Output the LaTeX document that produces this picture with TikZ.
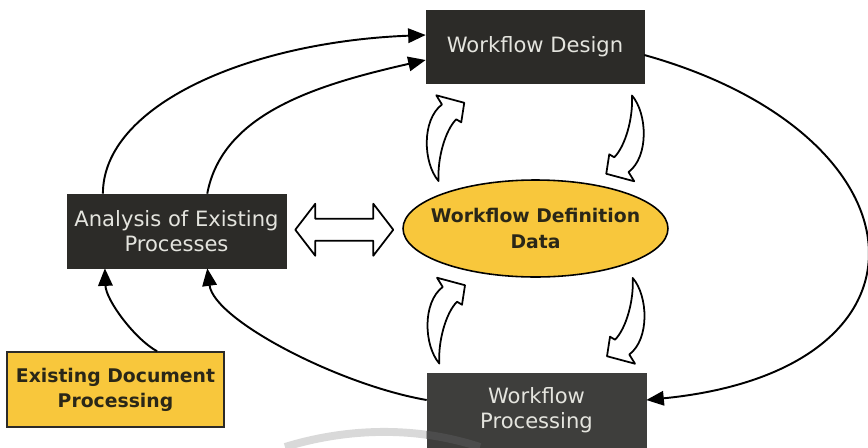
\documentclass[tikz,border=0pt]{standalone}
\usepackage{fontspec}
\setmainfont{DejaVu Sans}
\usetikzlibrary{arrows.meta,calc,shapes.geometric}
\definecolor{boxdark}{HTML}{2C2B28}
\definecolor{boxgray}{HTML}{3E3E3C}
\definecolor{wfyellow}{HTML}{F8C73C}
\definecolor{boxtext}{HTML}{E4E4DE}
\definecolor{inktext}{HTML}{2A2718}
\tikzset{
  darkbox/.style={draw=boxdark, fill=boxdark, text=boxtext, minimum width=4.38cm, minimum height=1.48cm, align=center, inner sep=0pt, font=\fontsize{12}{14.2}\selectfont},
  yellowbox/.style={draw=boxdark, line width=0.9pt, fill=wfyellow, text=inktext, minimum width=4.34cm, minimum height=1.5cm, align=center, inner sep=0pt, font=\fontsize{10.7}{14.2}\selectfont\bfseries},
  flow/.style={line width=1.1pt, -{Triangle[length=3.5mm,width=2.9mm]}},
  hollow/.style={draw=black, fill=white, line width=1pt, line join=round},
}
\newcommand{\bentarrow}{\draw[hollow] (-93.3,-33.8) -- (-99,-43) -- (-71,-35.5) -- (-74,-16) -- (-79,-19) .. controls (-90,-8) and (-98,20) .. (-96.7,42.8) .. controls (-112,25) and (-114,-18) .. cycle;}

\begin{document}
\begin{tikzpicture}[x=0.02cm,y=-0.02cm]
\useasboundingbox (0,0) rectangle (868,447);

\draw[gray!30, line width=4.5pt] (285,447) .. controls (340,430) and (410,424) .. (480,447);

\node[darkbox, minimum width=4.36cm, minimum height=1.46cm] (design) at (535,46.5) {Workflow Design};
\node[darkbox] (ana) at (176.5,231) {Analysis of Existing\\Processes};
\node[darkbox, fill=boxgray, draw=boxgray] (wp) at (536.5,410) {Workflow\\Processing};
\node[yellowbox] (exdoc) at (115.5,389.5) {Existing Document\\Processing};
\node[draw=black, line width=0.9pt, fill=wfyellow, ellipse, minimum width=5.3cm, minimum height=1.94cm, inner sep=0pt] (data) at (535.5,228.5) {};
\node[text=inktext, align=center, font=\fontsize{10.7}{14.7}\selectfont\bfseries] (datatext) at (data) {Workflow Definition\\Data};

\begin{scope}
\clip (wp.north west) rectangle (wp.south east);
\draw[black!70, line width=4.5pt] (285,447) .. controls (340,430) and (410,424) .. (480,447);
\end{scope}

\draw[flow] ($(ana.north west)!0.165!(ana.north east)$) .. controls +(0,-88) and +(-178,7) .. ([yshift=0.23cm]design.west);
\draw[flow] ($(ana.north west)!0.64!(ana.north east)$) .. controls +(15,-80) and +(-110,25) .. ([yshift=-0.27cm]design.west);
\draw[flow] ([yshift=-0.17cm]design.east) .. controls +(286,80) and +(304,-30) .. ([yshift=0.2cm]wp.east);
\draw[flow] ([yshift=0.2cm]wp.west) .. controls +(-87,-15) and +(7,52) .. ($(ana.south west)!0.64!(ana.south east)$);
\draw[flow] ($(exdoc.north west)!0.69!(exdoc.north east)$) .. controls +(-22,-12) and +(1,32) .. ($(ana.south west)!0.174!(ana.south east)$);

\coordinate (gapmid) at ($(ana.east)!0.5!(data.west)$);
\begin{scope}[shift={(gapmid)}]
\draw[hollow] (-49,0) -- (-29,-26) -- (-29,-11) -- (29,-11) -- (29,-26) -- (49,0) -- (29,26) -- (29,11) -- (-29,11) -- (-29,26) -- cycle;
\end{scope}

\coordinate (upmid) at ($(design.south)!0.5!(data.north)$);
\coordinate (lowmid) at ($(data.south)!0.5!(wp.north)$);
\begin{scope}[shift={($(upmid)+(0,7)$)}]
\bentarrow
\end{scope}
\begin{scope}[shift={($(upmid)+(0,7)$)}, xscale=-1, yscale=-1]
\bentarrow
\end{scope}
\begin{scope}[shift={($(lowmid)+(0,-4.5)$)}]
\bentarrow
\end{scope}
\begin{scope}[shift={($(lowmid)+(0,-4.5)$)}, xscale=-1, yscale=-1]
\bentarrow
\end{scope}
\end{tikzpicture}
\end{document}
